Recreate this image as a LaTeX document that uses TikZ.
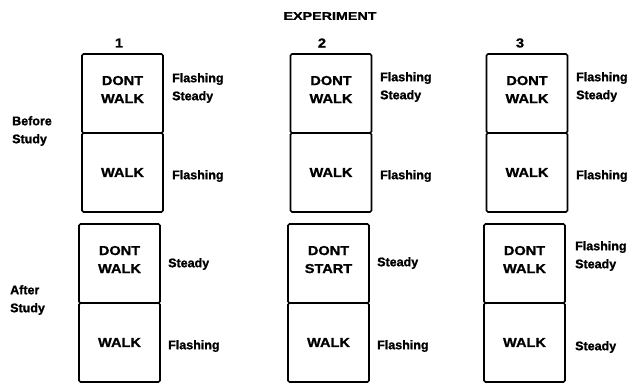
\documentclass[tikz,border=0pt]{standalone}
\usepackage{fontspec}
\setmainfont{Liberation Sans}[BoldFeatures={FakeBold=1.2}]
\newfontfamily\signfont{Liberation Sans}[FakeStretch=1.12, BoldFeatures={FakeBold=1.2}]
\newfontfamily\titlefont{Liberation Sans}[FakeStretch=1.3, BoldFeatures={FakeBold=1.2}]
\usetikzlibrary{positioning}

\begin{document}
\begin{tikzpicture}[x=1pt, y=-1pt,
    cell/.style={draw, line width=1.6pt, rounded corners=1.5pt, outer sep=0pt,
        minimum width=81pt, minimum height=79pt, align=center,
        font=\signfont\bfseries\fontsize{13}{18}\selectfont},
    cellup/.style={cell, text depth=8pt},
    aspect/.style={anchor=west, inner sep=0pt, align=left,
        font=\bfseries\fontsize{12.5}{18}\selectfont},
    colnum/.style={font=\signfont\bfseries\fontsize{13}{15}\selectfont}]
    \useasboundingbox (0,0) rectangle (631,386);

    % Header
    \node[font=\titlefont\bfseries\fontsize{11}{13}\selectfont] (title) at (330,16) {EXPERIMENT};
    \node[colnum] (num1) at (119,43) {1};
    \node[colnum] (num2) at (322,43) {2};
    \node[colnum] (num3) at (520,43) {3};

    % Row labels
    \node[aspect] (before) at (12,131) {Before\\Study};
    \node[aspect] (after) at (10,300) {After\\Study};

    % Experiment 1
    \node[cellup] (b1up) at (122.5,93.5) {DONT\\WALK};
    \node[cell, below=0pt of b1up] (b1lo) {WALK};
    \node[aspect] (b1upnote) at (172,88) {Flashing\\Steady};
    \node[aspect] (b1lonote) at (172,176) {Flashing};
    \node[cellup] (a1up) at (119.5,263.5) {DONT\\WALK};
    \node[cell, below=0pt of a1up] (a1lo) {WALK};
    \node[aspect] (a1upnote) at (168,264) {Steady};
    \node[aspect] (a1lonote) at (168,346) {Flashing};

    % Experiment 2
    \node[cellup] (b2up) at (331,93.5) {DONT\\WALK};
    \node[cell, below=0pt of b2up] (b2lo) {WALK};
    \node[aspect] (b2upnote) at (380,87) {Flashing\\Steady};
    \node[aspect] (b2lonote) at (380,176) {Flashing};
    \node[cellup] (a2up) at (328.5,263.5) {DONT\\START};
    \node[cell, below=0pt of a2up] (a2lo) {WALK};
    \node[aspect] (a2upnote) at (377,263) {Steady};
    \node[aspect] (a2lonote) at (377,346) {Flashing};

    % Experiment 3
    \node[cellup] (b3up) at (527,93.5) {DONT\\WALK};
    \node[cell, below=0pt of b3up] (b3lo) {WALK};
    \node[aspect] (b3upnote) at (576,87) {Flashing\\Steady};
    \node[aspect] (b3lonote) at (576,176) {Flashing};
    \node[cellup] (a3up) at (524.5,263.5) {DONT\\WALK};
    \node[cell, below=0pt of a3up] (a3lo) {WALK};
    \node[aspect] (a3upnote) at (575,256) {Flashing\\Steady};
    \node[aspect] (a3lonote) at (575,347) {Steady};
\end{tikzpicture}
\end{document}
